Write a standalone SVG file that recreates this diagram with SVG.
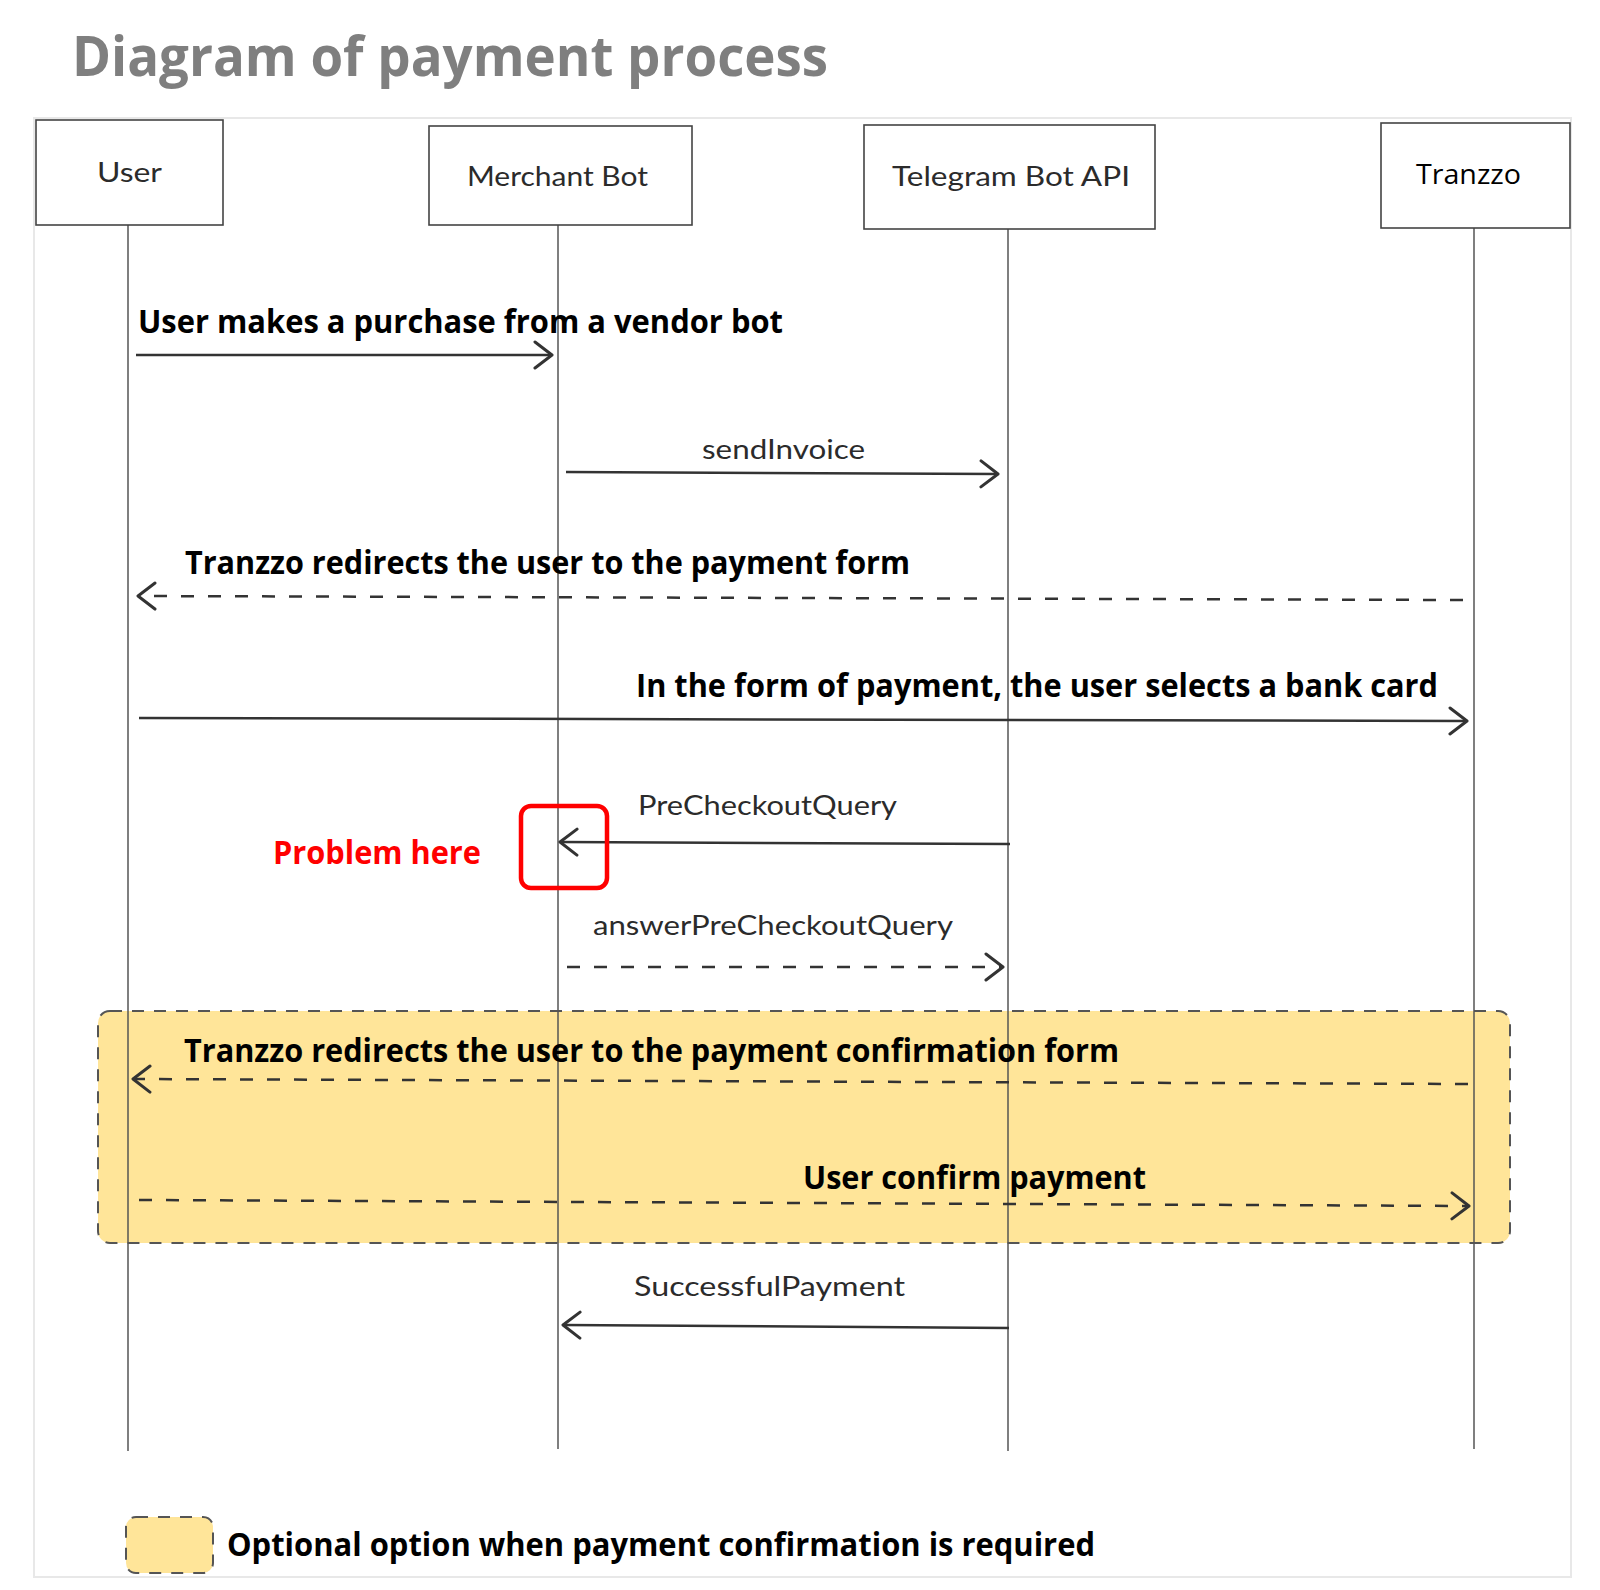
<svg xmlns="http://www.w3.org/2000/svg" width="1600" height="1590" viewBox="0 0 1600 1590">
<defs>
<marker id="ah" markerUnits="userSpaceOnUse" markerWidth="30" markerHeight="30" refX="19" refY="15" orient="auto">
<path d="M2,2 L19,15 L2,28" fill="none" stroke="#333" stroke-width="3" stroke-linecap="round" stroke-linejoin="round"/>
</marker>
<style>
.frame{fill:none;stroke:#e8e8e8;stroke-width:2}
.box{fill:#fff;stroke:#444;stroke-width:1.6}
.life{stroke:#555;stroke-width:1.5;fill:none}
.msg{stroke:#333;stroke-width:2.5;fill:none;marker-end:url(#ah)}
.dash{stroke-dasharray:13 14}
.opt{fill:#ffe599;stroke:#555;stroke-width:2;stroke-dasharray:12 10}
.title{font-family:"Open Sans","Liberation Sans",sans-serif;font-weight:bold;font-size:56px;fill:#7f7f7f}
.lbl{font-family:"Open Sans","Liberation Sans",sans-serif;font-weight:bold;font-size:32px;fill:#000}
.red{fill:#ff0000}
.thin{font-family:Lato,"Noto Sans",sans-serif;font-size:27px;fill:#2b2b2b}
.tz{font-family:"Open Sans","Liberation Sans",sans-serif;font-size:28px;fill:#000}
</style>
</defs>
<rect class="frame" x="34" y="118" width="1537" height="1459"/>
<text class="title" x="72" y="76" textLength="756" lengthAdjust="spacingAndGlyphs">Diagram of payment process</text>
<g id="optional-region">
<rect class="opt" x="98" y="1011" width="1412" height="232" rx="12"/>
</g>
<g id="lifelines">
<line class="life" x1="128" y1="222" x2="128" y2="1451"/>
<line class="life" x1="558" y1="225" x2="558" y2="1449"/>
<line class="life" x1="1008" y1="229" x2="1008" y2="1451"/>
<line class="life" x1="1474" y1="228" x2="1474" y2="1449"/>
</g>
<g id="node-user">
<rect class="box" x="36" y="120" width="187" height="105"/>
<text class="thin" x="97" y="182" textLength="65" lengthAdjust="spacingAndGlyphs">User</text>
</g>
<g id="node-merchant">
<rect class="box" x="429" y="126" width="263" height="99"/>
<text class="thin" x="467" y="186" textLength="181" lengthAdjust="spacingAndGlyphs">Merchant Bot</text>
</g>
<g id="node-telegram">
<rect class="box" x="864" y="125" width="291" height="104"/>
<text class="thin" x="892" y="186" textLength="238" lengthAdjust="spacingAndGlyphs">Telegram Bot API</text>
</g>
<g id="node-tranzzo">
<rect class="box" x="1381" y="123" width="189" height="105"/>
<text class="tz" x="1416" y="184" textLength="105" lengthAdjust="spacingAndGlyphs">Tranzzo</text>
</g>
<g id="connectors">
<path class="msg" d="M136,355 L552,355"/>
<path class="msg" d="M566,472 L998,474"/>
<path class="msg dash" d="M1463,600 L138,596"/>
<path class="msg" d="M139,718 L1467,721"/>
<path class="msg" d="M1010,844 L560,842"/>
<path class="msg dash" d="M567,967 L1003,967"/>
<path class="msg dash" d="M1468,1084 L133,1079"/>
<path class="msg dash" d="M139,1200 L1469,1206"/>
<path class="msg" d="M1009,1328 L563,1325"/>
</g>
<g id="labels">
<text class="lbl" x="138" y="333" textLength="645" lengthAdjust="spacingAndGlyphs">User makes a purchase from a vendor bot</text>
<text class="thin" x="702" y="459" textLength="163" lengthAdjust="spacingAndGlyphs">sendInvoice</text>
<text class="lbl" x="185" y="574" textLength="725" lengthAdjust="spacingAndGlyphs">Tranzzo redirects the user to the payment form</text>
<text class="lbl" x="636" y="697" textLength="802" lengthAdjust="spacingAndGlyphs">In the form of payment, the user selects a bank card</text>
<text class="thin" x="638" y="815" textLength="259" lengthAdjust="spacingAndGlyphs">PreCheckoutQuery</text>
<text class="thin" x="593" y="935" textLength="360" lengthAdjust="spacingAndGlyphs">answerPreCheckoutQuery</text>
<text class="lbl" x="184" y="1062" textLength="935" lengthAdjust="spacingAndGlyphs">Tranzzo redirects the user to the payment confirmation form</text>
<text class="lbl" x="803" y="1189" textLength="343" lengthAdjust="spacingAndGlyphs">User confirm payment</text>
<text class="thin" x="634" y="1296" textLength="271" lengthAdjust="spacingAndGlyphs">SuccessfulPayment</text>
</g>
<g id="problem-note">
<rect x="521" y="806" width="86" height="82" rx="10" fill="none" stroke="#ff0000" stroke-width="4.5"/>
<text class="lbl red" x="273" y="864" textLength="208" lengthAdjust="spacingAndGlyphs">Problem here</text>
</g>
<g id="legend">
<rect class="opt" x="126" y="1517" width="87" height="56" rx="10"/>
<text class="lbl" x="227" y="1556" textLength="868" lengthAdjust="spacingAndGlyphs">Optional option when payment confirmation is required</text>
</g>
</svg>
